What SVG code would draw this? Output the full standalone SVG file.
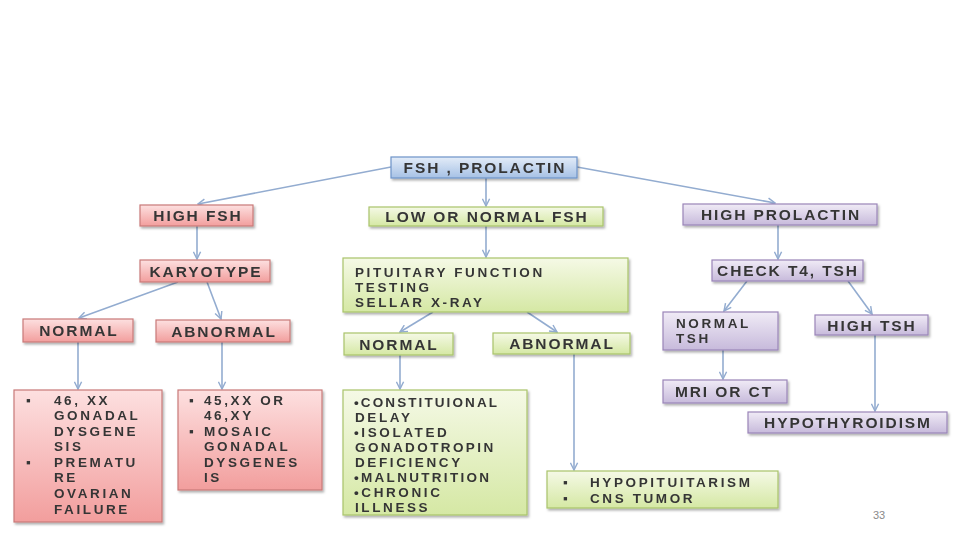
<svg xmlns="http://www.w3.org/2000/svg" width="960" height="540" viewBox="0 0 960 540">
<style>
.t{font-family:"Liberation Sans",Arial,sans-serif;font-weight:bold;font-size:15.5px;letter-spacing:1.9px;fill:#363636}
.m{font-size:13.5px;letter-spacing:2.6px}
.c{text-anchor:middle}
.red{fill:url(#gRed);stroke:#c97a78;stroke-width:1.2}
.green{fill:url(#gGreen);stroke:#a9c46a;stroke-width:1.2}
.purple{fill:url(#gPurple);stroke:#9a85b8;stroke-width:1.2}
.blue{fill:url(#gBlue);stroke:#6d93c8;stroke-width:1.2}
.box{filter:url(#sh)}
.con line{stroke:#93acd0;stroke-width:1.6;marker-end:url(#arr)}
.pg{font-family:"Liberation Sans",Arial,sans-serif;font-size:11px;fill:#8a8a8a}
</style>
<defs>
<linearGradient id="gRed" x1="0" y1="0" x2="0" y2="1"><stop offset="0" stop-color="#fde0e0"/><stop offset="1" stop-color="#f29e9d"/></linearGradient>
<linearGradient id="gGreen" x1="0" y1="0" x2="0" y2="1"><stop offset="0" stop-color="#f5f9e6"/><stop offset="1" stop-color="#d5e8a4"/></linearGradient>
<linearGradient id="gPurple" x1="0" y1="0" x2="0" y2="1"><stop offset="0" stop-color="#f0ebf6"/><stop offset="1" stop-color="#c7badb"/></linearGradient>
<linearGradient id="gBlue" x1="0" y1="0" x2="0" y2="1"><stop offset="0" stop-color="#e3ecf8"/><stop offset="1" stop-color="#a6c1e5"/></linearGradient>
<filter id="sh" x="-10%" y="-20%" width="120%" height="150%"><feDropShadow dx="1.5" dy="2" stdDeviation="1.2" flood-color="#000" flood-opacity="0.3"/></filter>
<marker id="arr" viewBox="0 0 10 10" refX="9" refY="5" markerWidth="9" markerHeight="9" markerUnits="userSpaceOnUse" orient="auto"><path d="M1,1 L9,5 L1,9" fill="none" stroke="#93acd0" stroke-width="1.6"/></marker>
</defs>
<rect width="960" height="540" fill="#ffffff"/>

<g id="connectors" class="con">
<line x1="391" y1="167" x2="198" y2="204"/>
<line x1="486" y1="178" x2="486" y2="206"/>
<line x1="577" y1="167" x2="775" y2="203"/>
<line x1="197" y1="226" x2="197" y2="259"/>
<line x1="178" y1="282" x2="79" y2="318"/>
<line x1="207" y1="282" x2="221" y2="319"/>
<line x1="78" y1="342" x2="78" y2="389"/>
<line x1="222" y1="342" x2="222" y2="389"/>
<line x1="486" y1="226" x2="486" y2="257"/>
<line x1="433" y1="312" x2="400" y2="332"/>
<line x1="527" y1="312" x2="557" y2="332"/>
<line x1="400" y1="355" x2="400" y2="389"/>
<line x1="574" y1="354" x2="574" y2="470"/>
<line x1="778" y1="225" x2="778" y2="259"/>
<line x1="747" y1="281" x2="724" y2="311"/>
<line x1="848" y1="281" x2="872" y2="314"/>
<line x1="723" y1="350" x2="723" y2="379"/>
<line x1="875" y1="335" x2="875" y2="411"/>
</g>

<g id="n-root" class="box"><rect class="blue" x="391" y="157" width="186" height="21"/><text class="t c" x="485" y="173">FSH , PROLACTIN</text></g>
<g id="n-highfsh" class="box"><rect class="red" x="140" y="205" width="113" height="21"/><text class="t c" x="198" y="221">HIGH FSH</text></g>
<g id="n-lownormal" class="box"><rect class="green" x="369" y="207" width="234" height="19"/><text class="t c" x="487" y="222">LOW OR NORMAL FSH</text></g>
<g id="n-highprl" class="box"><rect class="purple" x="683" y="204" width="194" height="21"/><text class="t c" x="781" y="220">HIGH PROLACTIN</text></g>
<g id="n-karyotype" class="box"><rect class="red" x="140" y="260" width="130" height="22"/><text class="t c" x="206" y="277">KARYOTYPE</text></g>
<g id="n-pituitary" class="box"><rect class="green" x="343" y="258" width="285" height="54"/>
<text class="t m" x="355" y="277">PITUITARY FUNCTION</text><text class="t m" x="355" y="292">TESTING</text><text class="t m" x="355" y="307">SELLAR X-RAY</text></g>
<g id="n-checkt4" class="box"><rect class="purple" x="712" y="260" width="151" height="21"/><text class="t c" x="788" y="276">CHECK T4, TSH</text></g>
<g id="n-normal-k" class="box"><rect class="red" x="23" y="319" width="110" height="23"/><text class="t c" x="79" y="336">NORMAL</text></g>
<g id="n-abnormal-k" class="box"><rect class="red" x="156" y="320" width="134" height="22"/><text class="t c" x="224" y="337">ABNORMAL</text></g>
<g id="n-normal-p" class="box"><rect class="green" x="344" y="333" width="109" height="22"/><text class="t c" x="399" y="350">NORMAL</text></g>
<g id="n-abnormal-p" class="box"><rect class="green" x="493" y="333" width="137" height="21"/><text class="t c" x="562" y="349">ABNORMAL</text></g>
<g id="n-normaltsh" class="box"><rect class="purple" x="663" y="312" width="115" height="38"/><text class="t m" x="676" y="328">NORMAL</text><text class="t m" x="676" y="343">TSH</text></g>
<g id="n-hightsh" class="box"><rect class="purple" x="815" y="315" width="113" height="20"/><text class="t c" x="872" y="331">HIGH TSH</text></g>
<g id="n-mri" class="box"><rect class="purple" x="663" y="380" width="124" height="23"/><text class="t c" x="724" y="397">MRI OR CT</text></g>
<g id="n-hypothyroid" class="box"><rect class="purple" x="748" y="412" width="199" height="21"/><text class="t c" x="848" y="428">HYPOTHYROIDISM</text></g>
<g id="n-46xx" class="box"><rect class="red" x="14" y="390" width="148" height="132"/>
<text class="t m" x="26" y="405">▪</text><text class="t m" x="54" y="405">46, XX</text>
<text class="t m" x="54" y="420">GONADAL</text><text class="t m" x="54" y="436">DYSGENE</text><text class="t m" x="54" y="451">SIS</text>
<text class="t m" x="26" y="467">▪</text><text class="t m" x="54" y="467">PREMATU</text>
<text class="t m" x="54" y="482">RE</text><text class="t m" x="54" y="498">OVARIAN</text><text class="t m" x="54" y="514">FAILURE</text></g>
<g id="n-45xx" class="box"><rect class="red" x="178" y="390" width="144" height="100"/>
<text class="t m" x="189" y="405">▪</text><text class="t m" x="204" y="405">45,XX OR</text>
<text class="t m" x="204" y="420">46,XY</text>
<text class="t m" x="189" y="436">▪</text><text class="t m" x="204" y="436">MOSAIC</text>
<text class="t m" x="204" y="451">GONADAL</text><text class="t m" x="204" y="467">DYSGENES</text><text class="t m" x="204" y="482">IS</text></g>
<g id="n-constitutional" class="box"><rect class="green" x="343" y="390" width="184" height="125"/>
<text class="t m" x="354" y="407" style="letter-spacing:2.1px">•CONSTITUIONAL</text>
<text class="t m" x="355" y="422">DELAY</text>
<text class="t m" x="354" y="437">•ISOLATED</text>
<text class="t m" x="355" y="452" style="letter-spacing:2.4px">GONADOTROPIN</text>
<text class="t m" x="355" y="467">DEFICIENCY</text>
<text class="t m" x="354" y="482" style="letter-spacing:2.3px">•MALNUTRITION</text>
<text class="t m" x="354" y="497">•CHRONIC</text>
<text class="t m" x="355" y="512">ILLNESS</text></g>
<g id="n-hypopit" class="box"><rect class="green" x="547" y="471" width="231" height="37"/>
<text class="t m" x="563" y="487">▪</text><text class="t m" x="590" y="487">HYPOPITUITARISM</text>
<text class="t m" x="563" y="503">▪</text><text class="t m" x="590" y="503">CNS TUMOR</text></g>

<text class="pg" x="873" y="519">33</text>
</svg>
